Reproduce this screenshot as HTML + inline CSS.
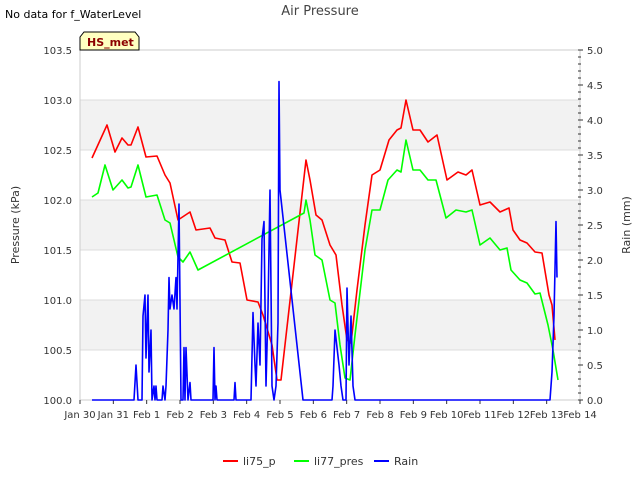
<!DOCTYPE html>
<html><head><meta charset="utf-8"><style>
body{margin:0;background:#fff;font-family:"Liberation Sans","DejaVu Sans",sans-serif}
svg text{font-family:"DejaVu Sans","Liberation Sans",sans-serif}
</style></head><body>
<svg id="chart" width="640" height="480" xmlns="http://www.w3.org/2000/svg">
<rect width="640" height="480" fill="#fff"/>
<g id="bands"></g><g id="grid"></g>
<text x="5" y="18" font-size="11" fill="#000">No data for f_WaterLevel</text>
<text x="320" y="15" font-size="13" fill="#444" text-anchor="middle">Air Pressure</text>
<g id="axes"></g>
<g id="series"></g>
<g>
<path d="M80,50 L80,37 L84,32 L135,32 L139,37 L139,50 Z" fill="#ffffc0" stroke="#000" stroke-width="1"/>
<text x="87" y="46" font-size="11" font-weight="bold" fill="#8b0000">HS_met</text>
</g>
<text x="19" y="225" font-size="11" fill="#333" text-anchor="middle" transform="rotate(-90 19 225)">Pressure (kPa)</text>
<text x="630" y="225" font-size="11" fill="#333" text-anchor="middle" transform="rotate(-90 630 225)">Rain (mm)</text>
<g>
<g><line x1="223" y1="461" x2="238" y2="461" stroke="#f00" stroke-width="2"/><text x="243" y="465" font-size="11" fill="#333">li75_p</text></g>
<g><line x1="294" y1="461" x2="309" y2="461" stroke="#0f0" stroke-width="2"/><text x="314" y="465" font-size="11" fill="#333">li77_pres</text></g>
<g><line x1="374" y1="461" x2="389" y2="461" stroke="#00f" stroke-width="2"/><text x="394" y="465" font-size="11" fill="#333">Rain</text></g>
</g>
</svg>
<script>
const dayLabels=["Jan 30","Jan 31","Feb 1","Feb 2","Feb 3","Feb 4","Feb 5","Feb 6","Feb 7","Feb 8","Feb 9","Feb 10","Feb 11","Feb 12","Feb 13","Feb 14"];
const leftTicks=[100.0,100.5,101.0,101.5,102.0,102.5,103.0,103.5];
const rightTicks=[0.0,0.5,1.0,1.5,2.0,2.5,3.0,3.5,4.0,4.5,5.0];
const li75Days=[0.36,0.81,1.05,1.26,1.44,1.53,1.74,1.98,2.31,2.55,2.70,2.94,3.30,3.48,3.90,4.05,4.35,4.56,4.80,5.01,5.34,5.49,5.76,5.91,6.03,6.78,6.90,7.08,7.26,7.50,7.68,7.86,8.01,8.13,8.31,8.55,8.76,9.00,9.27,9.51,9.63,9.78,9.99,10.20,10.44,10.71,11.01,11.34,11.58,11.76,12.00,12.30,12.60,12.87,12.99,13.20,13.41,13.65,13.86,14.07,14.16,14.25];
const li75Vals=[102.42,102.75,102.48,102.62,102.55,102.55,102.73,102.43,102.44,102.25,102.17,101.8,101.88,101.7,101.72,101.62,101.6,101.38,101.37,101.0,100.98,100.85,100.55,100.2,100.2,102.4,102.2,101.85,101.8,101.55,101.45,100.95,100.6,100.57,101.1,101.75,102.25,102.3,102.6,102.7,102.72,103.0,102.7,102.7,102.58,102.65,102.2,102.28,102.25,102.3,101.95,101.98,101.88,101.92,101.7,101.6,101.57,101.48,101.47,101.05,100.95,100.6];
const li77Days=[0.36,0.54,0.75,0.99,1.26,1.44,1.53,1.74,1.98,2.31,2.55,2.70,2.94,3.09,3.30,3.54,6.72,6.78,6.90,7.05,7.26,7.50,7.65,7.80,7.95,8.10,8.25,8.55,8.76,9.00,9.24,9.51,9.63,9.78,9.99,10.20,10.44,10.68,10.98,11.28,11.58,11.76,12.00,12.30,12.60,12.81,12.93,13.20,13.41,13.65,13.80,14.04,14.19,14.34];
const li77Vals=[102.03,102.07,102.35,102.1,102.2,102.12,102.13,102.35,102.03,102.05,101.8,101.77,101.43,101.38,101.48,101.3,101.87,102.0,101.8,101.45,101.4,101.0,100.97,100.55,100.22,100.2,100.65,101.5,101.9,101.9,102.2,102.3,102.28,102.6,102.3,102.3,102.2,102.2,101.82,101.9,101.88,101.9,101.55,101.62,101.5,101.52,101.3,101.2,101.17,101.06,101.07,100.75,100.5,100.2];
const rainDays=[0.36,1.62,1.68,1.74,1.86,1.89,1.95,1.98,2.04,2.07,2.13,2.16,2.22,2.25,2.28,2.31,2.46,2.49,2.55,2.58,2.64,2.67,2.70,2.76,2.82,2.88,2.91,2.97,3.03,3.09,3.12,3.15,3.18,3.24,3.30,3.33,3.99,4.02,4.05,4.08,4.11,4.62,4.65,4.68,5.13,5.19,5.25,5.28,5.34,5.40,5.46,5.52,5.58,5.64,5.70,5.76,5.82,5.88,5.94,5.97,6.00,6.69,7.56,7.59,7.65,7.71,7.77,7.83,7.89,7.98,8.01,8.07,8.13,8.19,8.25,14.10,14.16,14.22,14.28,14.31];
const rainVals=[0,0,0.5,0,0,1.2,1.5,0.6,1.5,0.4,1.0,0,0.2,0,0.2,0,0,0.2,0,0.2,1.0,1.75,1.3,1.5,1.3,1.75,1.3,2.8,0,0,0.75,0,0.75,0,0.25,0,0,0.75,0,0.2,0,0,0.25,0,0,1.25,0.5,0.2,1.1,0.5,2.3,2.55,0.2,1.3,3.0,0.2,0,0.2,1.1,4.55,3.0,0,0,0.2,1.0,0.75,0.5,0.2,0,0,1.6,0.5,1.2,0.2,0,0,0.4,1.2,2.55,1.75];

const NS="http://www.w3.org/2000/svg";
const X0=80,X1=580,Y0=400,Y1=50;
const xs=d=>X0+d*(X1-X0)/15;
const yl=p=>Y0-(p-100)*(Y0-Y1)/3.5;
const yr=r=>Y0-r*(Y0-Y1)/5;
function mk(tag,attrs,parent){const e=document.createElementNS(NS,tag);for(const k in attrs)e.setAttribute(k,attrs[k]);parent.appendChild(e);return e;}
const bands=document.getElementById('bands'),grid=document.getElementById('grid'),axes=document.getElementById('axes'),series=document.getElementById('series');
[[100.5,101],[101.5,102],[102.5,103]].forEach(b=>{const r=mk('rect',{x:X0,y:yl(b[1]),width:X1-X0,height:yl(b[0])-yl(b[1]),fill:'#f2f2f2'},bands);

});
leftTicks.forEach(t=>{const l=mk('line',{x1:X0,x2:X1,y1:yl(t),y2:yl(t),stroke:'#dcdcdc','stroke-width':1},grid);


const tx=mk('text',{x:X0-8,y:yl(t)+4,'font-size':10,fill:'#333','text-anchor':'end'},axes);tx.textContent=t.toFixed(1);

});
mk('rect',{x:X0,y:Y1,width:X1-X0,height:Y0-Y1,fill:'none',stroke:'#ccc'},axes);
rightTicks.forEach(t=>{const tx=mk('text',{x:587,y:yr(t)+4,'font-size':10,fill:'#333'},axes);tx.textContent=t.toFixed(1);

});
for(let i=0;i<=50;i++){const v=i/10;mk('line',{x1:X1-2,x2:X1+(i%5==0?3:1),y1:yr(v),y2:yr(v),stroke:'#333'},axes);}
dayLabels.forEach((d,i)=>{mk('line',{x1:xs(i),x2:xs(i),y1:Y0,y2:Y0+4,stroke:'#333'},axes);
const tx=mk('text',{x:xs(i),y:Y0+18,'font-size':10,fill:'#333','text-anchor':'middle'},axes);tx.textContent=d;

});
function line(days,vals,yf,color,name){const p=mk('polyline',{points:days.map((d,i)=>xs(d).toFixed(1)+','+yf(vals[i]).toFixed(1)).join(' '),fill:'none',stroke:color,'stroke-width':1.6,'stroke-linejoin':'round'},series);

}
line(li75Days,li75Vals,yl,'#f00','li75-p-line');
line(li77Days,li77Vals,yl,'#0f0','li77-pres-line');
line(rainDays,rainVals,yr,'#00f','rain-line');
</script>
</body></html>
